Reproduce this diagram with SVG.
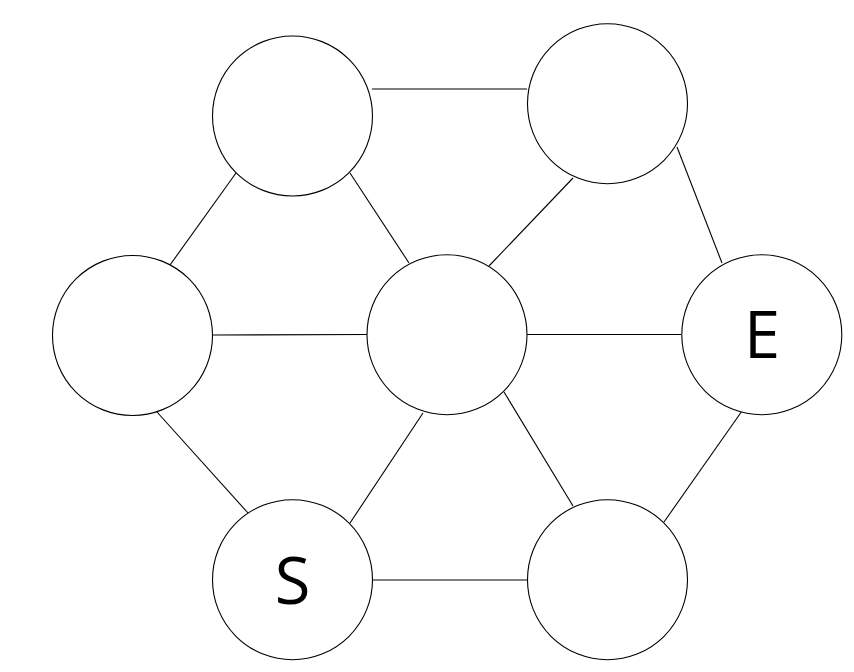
<svg xmlns="http://www.w3.org/2000/svg" width="854" height="672" viewBox="0 0 854 672">
<style>
.node{fill:#fff;stroke:#000;stroke-width:1.1}
.edge{stroke:#000;stroke-width:1.1;fill:none}
.lbl{font-family:"Open Sans","Noto Sans",sans-serif;font-size:65px;fill:#000;text-anchor:middle}
</style>
<rect width="854" height="672" fill="#fff"/>
<g id="connectors">
<line class="edge" x1="372" y1="89" x2="527" y2="89"/>
<line class="edge" x1="236" y1="173" x2="170" y2="265"/>
<line class="edge" x1="350" y1="173" x2="409" y2="263"/>
<line class="edge" x1="573" y1="178" x2="489" y2="266"/>
<line class="edge" x1="677" y1="147" x2="722" y2="263"/>
<line class="edge" x1="213" y1="335" x2="367" y2="334.5"/>
<line class="edge" x1="527" y1="334.5" x2="681" y2="334.5"/>
<line class="edge" x1="157" y1="412" x2="248" y2="513"/>
<line class="edge" x1="423" y1="413" x2="350" y2="523"/>
<line class="edge" x1="504" y1="392" x2="573" y2="506"/>
<line class="edge" x1="742" y1="411" x2="664" y2="522"/>
<line class="edge" x1="372.5" y1="580" x2="527.5" y2="580"/>
</g>
<g id="node-top-left"><circle class="node" cx="292.5" cy="116" r="80"/></g>
<g id="node-top-right"><circle class="node" cx="607.5" cy="103.7" r="80"/></g>
<g id="node-left"><circle class="node" cx="132.5" cy="335.5" r="80"/></g>
<g id="node-center"><circle class="node" cx="447" cy="334.7" r="80"/></g>
<g id="node-E"><circle class="node" cx="761.8" cy="334.7" r="80"/><text class="lbl" x="762" y="358">E</text></g>
<g id="node-S"><circle class="node" cx="292.5" cy="579.7" r="80"/><text class="lbl" x="292.5" y="604">S</text></g>
<g id="node-bottom-right"><circle class="node" cx="607.5" cy="579.7" r="80"/></g>
</svg>
